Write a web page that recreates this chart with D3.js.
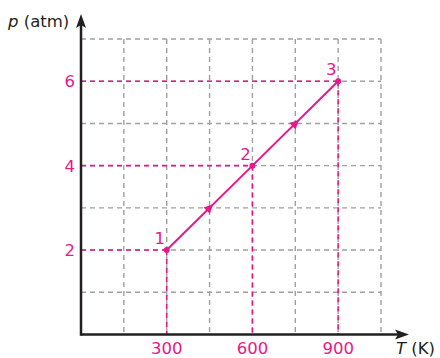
<!DOCTYPE html>
<html>
<head>
<meta charset="utf-8">
<script src="https://cdn.jsdelivr.net/npm/d3@7"></script>
<style>
  html, body { margin: 0; padding: 0; background: #fff; }
  svg { display: block; }
  text { font-family: "DejaVu Sans", "Open Sans", sans-serif; }
</style>
</head>
<body>
<svg id="chart" width="440" height="358"></svg>
<script>
// State points of the process (temperature in K, pressure in atm)
const stateLabels = ["1", "2", "3"];
const temperatures = [300, 600, 900];
const pressures = [2, 4, 6];

// Axis tick labels and grid positions
const xTickLabels = [300, 600, 900];
const yTickLabels = [2, 4, 6];
const xGrid = [150, 300, 450, 600, 750, 900, 1050];
const yGrid = [1, 2, 3, 4, 5, 6, 7];

const magenta = "#e8178a";
const gridGray = "#a0a0a0";
const axisColor = "#231f20";
const fontSize = 16.5;

const svg = d3.select("#chart");
const x = d3.scaleLinear().domain([0, 1050]).range([81, 381]);
const y = d3.scaleLinear().domain([0, 7]).range([334.5, 39]);

// Dashed grid
const grid = svg.append("g");
grid.selectAll("line.v").data(xGrid).join("line")
  .attr("x1", d => x(d)).attr("x2", d => x(d))
  .attr("y1", y(7)).attr("y2", y(0))
  .attr("stroke", gridGray).attr("stroke-width", 1.4)
  .attr("stroke-dasharray", "5,4");
grid.selectAll("line.h").data(yGrid).join("line")
  .attr("x1", x(0)).attr("x2", x(1050))
  .attr("y1", d => y(d)).attr("y2", d => y(d))
  .attr("stroke", gridGray).attr("stroke-width", 1.4)
  .attr("stroke-dasharray", "5,4");

// Magenta guide lines from each state to the axes
const pts = temperatures.map((t, i) => ({ t, p: pressures[i], label: stateLabels[i] }));
const guides = svg.append("g")
  .attr("stroke", magenta).attr("stroke-width", 1.6)
  .attr("stroke-dasharray", "5,4");
guides.selectAll("line.h").data(pts).join("line")
  .attr("x1", x(0)).attr("x2", d => x(d.t))
  .attr("y1", d => y(d.p)).attr("y2", d => y(d.p));
guides.selectAll("line.v").data(pts).join("line")
  .attr("x1", d => x(d.t)).attr("x2", d => x(d.t))
  .attr("y1", d => y(d.p)).attr("y2", y(0));

// Process path
svg.append("path")
  .datum(pts)
  .attr("d", d3.line().x(d => x(d.t)).y(d => y(d.p)))
  .attr("fill", "none").attr("stroke", magenta).attr("stroke-width", 2);

// Direction arrows at segment midpoints
const mids = d3.pairs(pts).map(([a, b]) => ({
  t: (a.t + b.t) / 2, p: (a.p + b.p) / 2,
  ang: Math.atan2(y(b.p) - y(a.p), x(b.t) - x(a.t)) * 180 / Math.PI
}));
svg.selectAll("path.arrow").data(mids).join("path")
  .attr("class", "arrow")
  .attr("d", "M5,0 L-4,-4.5 L-4,4.5 Z")
  .attr("transform", d => `translate(${x(d.t)},${y(d.p)}) rotate(${d.ang})`)
  .attr("fill", magenta);

// State points and their numbers
svg.selectAll("circle.pt").data(pts).join("circle")
  .attr("cx", d => x(d.t)).attr("cy", d => y(d.p)).attr("r", 3)
  .attr("fill", magenta);
svg.selectAll("text.pt").data(pts).join("text")
  .attr("x", d => x(d.t) - 7).attr("y", d => y(d.p) - 6)
  .attr("text-anchor", "middle")
  .attr("font-size", fontSize).attr("fill", magenta)
  .text(d => d.label);

// Axes with arrowheads
svg.append("line")
  .attr("x1", x(0)).attr("x2", 400).attr("y1", y(0)).attr("y2", y(0))
  .attr("stroke", axisColor).attr("stroke-width", 2.5);
svg.append("path")
  .attr("d", `M409,${y(0)} L395,${y(0) - 5} L398,${y(0)} L395,${y(0) + 5} Z`)
  .attr("fill", axisColor);
svg.append("line")
  .attr("x1", x(0)).attr("x2", x(0)).attr("y1", y(0) + 1.2).attr("y2", 24)
  .attr("stroke", axisColor).attr("stroke-width", 2.5);
svg.append("path")
  .attr("d", `M${x(0)},14 L${x(0) - 5},28 L${x(0)},25 L${x(0) + 5},28 Z`)
  .attr("fill", axisColor);

// Tick labels
svg.selectAll("text.xt").data(xTickLabels).join("text")
  .attr("x", d => x(d)).attr("y", 354)
  .attr("text-anchor", "middle").attr("font-size", fontSize)
  .attr("fill", magenta)
  .text(d => d);
svg.selectAll("text.yt").data(yTickLabels).join("text")
  .attr("x", 75).attr("y", d => y(d) + 6)
  .attr("text-anchor", "end").attr("font-size", fontSize)
  .attr("fill", magenta)
  .text(d => d);

// Axis titles
const yTitle = svg.append("text").attr("x", 8).attr("y", 27)
  .attr("font-size", fontSize).attr("fill", axisColor);
yTitle.append("tspan").attr("font-style", "italic").text("p");
yTitle.append("tspan").text(" (atm)");
const xTitle = svg.append("text").attr("x", 396).attr("y", 354)
  .attr("font-size", fontSize).attr("fill", axisColor);
xTitle.append("tspan").attr("font-style", "italic").text("T");
xTitle.append("tspan").text(" (K)");
</script>
</body>
</html>
